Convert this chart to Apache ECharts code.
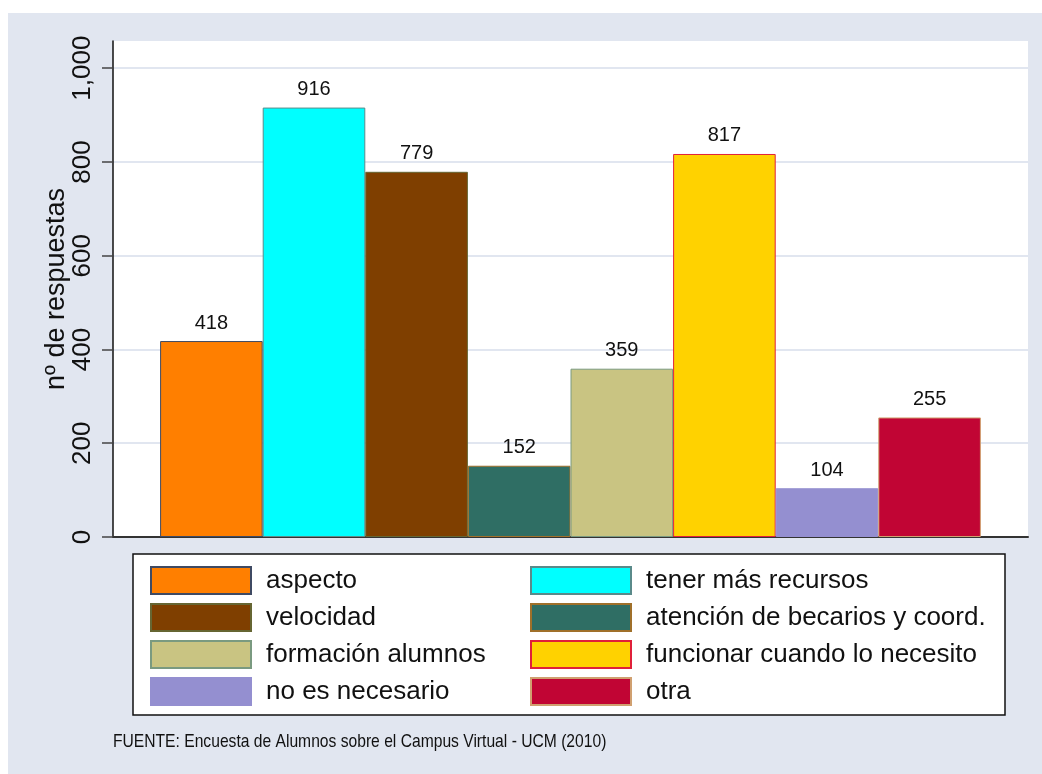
<!DOCTYPE html>
<html><head><meta charset="utf-8">
<script src="https://cdn.jsdelivr.net/npm/echarts@6/dist/echarts.min.js"></script>
<style>
html,body{margin:0;padding:0;background:#fff;}
#bg{position:absolute;left:8px;top:13px;width:1034px;height:761px;background:#e1e6f0;}
#c{position:absolute;left:0;top:0;width:1042px;height:774px;}
</style></head><body><div id="bg"></div><div id="c"></div>
<script>
const groups = [''];
const categories = ['aspecto','tener más recursos','velocidad','atención de becarios y coord.','formación alumnos','funcionar cuando lo necesito','no es necesario','otra'];
const values = [418, 916, 779, 152, 359, 817, 104, 255];
const yTicks = [0, 200, 400, 600, 800, 1000];
const fillColors = ['#ff7f00','#00ffff','#7f3f00','#2f6e64','#c9c482','#ffd200','#948fd0','#c10534'];
const borderColors = ['#3f4a63','#5a8a8a','#666633','#a0702a','#7a9a80','#e0203a','#948fd0','#d0a070'];
const leftCol = [0, 2, 4, 6];
const rightCol = [1, 3, 5, 7];
const yTitle = 'nº de respuestas';
const note = 'FUENTE: Encuesta de Alumnos sobre el Campus Virtual - UCM (2010)';

const FONT = "'Liberation Sans', Arial, sans-serif";
const chart = echarts.init(document.getElementById('c'));

const series = categories.map((name, i) => ({
  name: name,
  type: 'bar',
  data: [values[i]],
  barWidth: 102.6,
  barGap: '0%',
  itemStyle: { color: fillColors[i], borderColor: borderColors[i], borderWidth: 1 },
  label: { show: true, position: 'top', distance: 8, fontSize: 20, color: '#111', fontFamily: FONT },
  emphasis: { disabled: true }
}));

const legendBase = {
  orient: 'vertical', itemWidth: 100, itemHeight: 27, itemGap: 8, icon: 'rect',
  selectedMode: false,
  textStyle: { fontSize: 26, lineHeight: 27, color: '#111', fontFamily: FONT, padding: [0, 0, 0, 10] }
};

chart.setOption({
  animation: false,
  textStyle: { fontFamily: FONT },
  grid: { left: 113, right: 14, top: 41, bottom: 237, show: true, backgroundColor: '#ffffff', borderWidth: 0 },
  xAxis: {
    type: 'category', data: groups,
    axisLine: { show: true, lineStyle: { color: '#333', width: 2 } },
    axisTick: { show: false }, axisLabel: { show: false }, splitLine: { show: false }
  },
  yAxis: {
    type: 'value', min: 0, max: 1058, interval: 200,
    name: yTitle, nameLocation: 'middle', nameGap: 43, nameRotate: 90, nameMoveOverlap: false,
    nameTextStyle: { fontSize: 27, color: '#111', fontFamily: FONT },
    axisLine: { show: true, lineStyle: { color: '#111', width: 1.5 } },
    axisTick: { show: true, length: 11, lineStyle: { color: '#444', width: 1.5 }, customValues: yTicks },
    axisLabel: { rotate: 90, fontSize: 26, color: '#111', margin: 17, customValues: yTicks,
      formatter: v => Number(v).toLocaleString('en-US') },
    splitLine: { show: true, lineStyle: { color: '#e1e6f0', width: 2 } }
  },
  legend: [
    Object.assign({}, legendBase, { left: 145, top: 561, data: leftCol.map(i => categories[i]) }),
    Object.assign({}, legendBase, { left: 525, top: 561, data: rightCol.map(i => categories[i]) })
  ],
  graphic: [
    { type: 'rect', z: 0, shape: { x: 133, y: 554, width: 872, height: 161 },
      style: { fill: '#fff', stroke: '#111', lineWidth: 1.5 } },
    { type: 'text', x: 113, y: 732, scaleX: 0.823,
      style: { text: note, font: "19px 'Liberation Sans', sans-serif", fill: '#111', textVerticalAlign: 'top' } }
  ],
  series: series
});
</script>
</body></html>
